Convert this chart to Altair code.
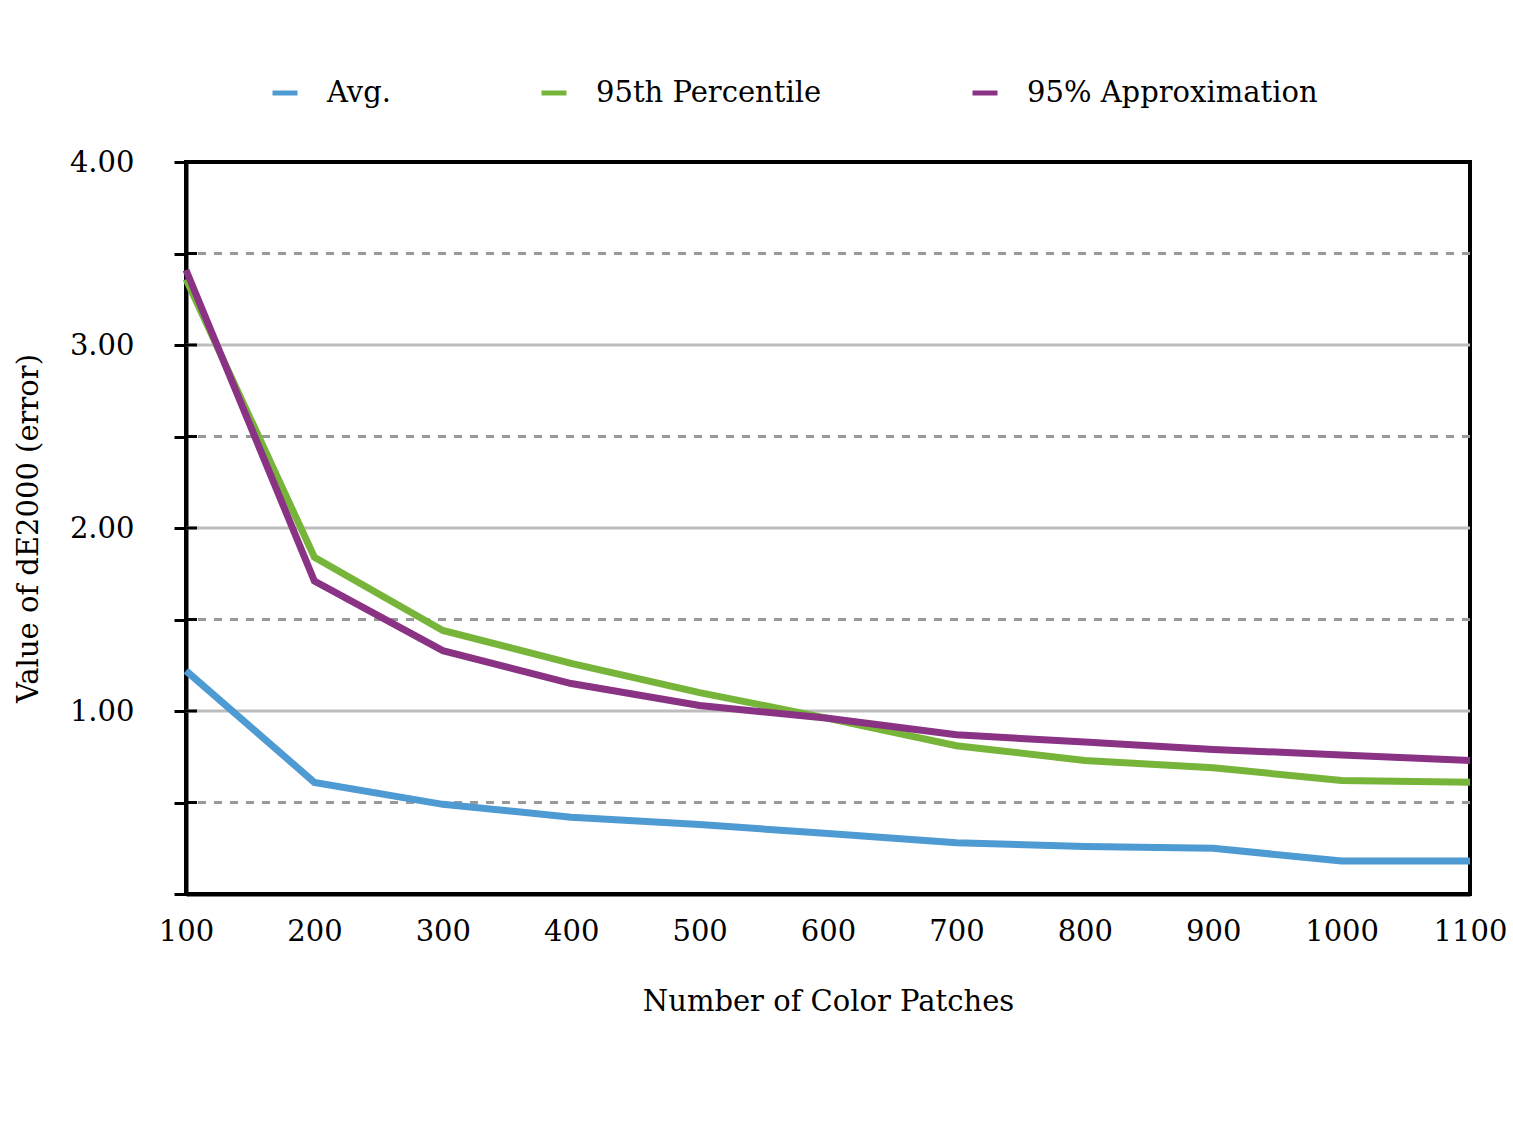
import altair as alt
import pandas as pd

# Number of colour patches used for characterisation
patches = [100, 200, 300, 400, 500, 600, 700, 800, 900, 1000, 1100]

# dE2000 error values per series
avg_err = [1.22, 0.61, 0.49, 0.42, 0.38, 0.33, 0.28, 0.26, 0.25, 0.18, 0.18]
p95_err = [3.36, 1.84, 1.44, 1.26, 1.10, 0.96, 0.81, 0.73, 0.69, 0.62, 0.61]
approx_err = [3.41, 1.71, 1.33, 1.15, 1.03, 0.96, 0.87, 0.83, 0.79, 0.76, 0.73]

series_names = ["Avg.", "95th Percentile", "95% Approximation"]
series_colors = ["#4E9AD2", "#77B53A", "#8A3284"]

major_grid = [1, 2, 3]
minor_grid = [0.5, 1.5, 2.5, 3.5]
y_ticks = [0, 0.5, 1, 1.5, 2, 2.5, 3, 3.5, 4]

FONT = "DejaVu Serif"
FS = 29

rows = []
for name, vals in zip(series_names, [avg_err, p95_err, approx_err]):
    for x, v in zip(patches, vals):
        rows.append({"patches": x, "value": v, "series": name})
df = pd.DataFrame(rows)

x_scale = alt.Scale(domain=[100, 1100], nice=False, zero=False)
y_scale = alt.Scale(domain=[0, 4], nice=False)

y_axis = alt.Axis(
    values=y_ticks,
    labelExpr="datum.value > 0 && datum.value % 1 == 0 ? format(datum.value, '.2f') : ''",
    grid=False,
    domainColor="black",
    domainWidth=4,
    tickColor="black",
    tickWidth=3,
    tickSize=12,
    labelFont=FONT,
    labelFontSize=FS,
    labelColor="black",
    labelPadding=40,
    labelFlush=False,
    titleFont=FONT,
    titleFontSize=FS,
    titleFontWeight="normal",
    titleColor="black",
    titlePadding=26,
)

# solid grid lines at whole values (this layer also carries the y axis)
major = alt.Chart(pd.DataFrame({"v": major_grid})).mark_rule(
    color="#BDBDBD", strokeWidth=3
).encode(y=alt.Y("v:Q", scale=y_scale, axis=y_axis, title="Value of dE2000 (error)"))

# dashed grid lines at half values
minor = alt.Chart(pd.DataFrame({"v": minor_grid})).mark_rule(
    color="#999999", strokeWidth=3, strokeDash=[8, 8]
).encode(y=alt.Y("v:Q", scale=y_scale))

# short inner half of each y tick
inner_ticks = alt.Chart(pd.DataFrame({"v": y_ticks})).mark_rule(
    color="black", strokeWidth=3
).encode(
    y=alt.Y("v:Q", scale=y_scale),
    x=alt.value(0),
    x2=alt.value(11),
)

lines = alt.Chart(df).mark_line(strokeWidth=7, strokeCap="butt").encode(
    x=alt.X(
        "patches:Q",
        scale=x_scale,
        title="Number of Color Patches",
        axis=alt.Axis(
            values=patches,
            format="d",
            ticks=False,
            grid=False,
            domainColor="black",
            domainWidth=4,
            labelFont=FONT,
            labelFontSize=FS,
            labelColor="black",
            labelPadding=23,
            labelFlush=False,
            titleFont=FONT,
            titleFontSize=FS,
            titleFontWeight="normal",
            titleColor="black",
            titlePadding=41,
        ),
    ),
    y=alt.Y("value:Q", scale=y_scale),
    color=alt.Color(
        "series:N",
        scale=alt.Scale(domain=series_names, range=series_colors),
        sort=series_names,
        legend=alt.Legend(
            title=None,
            orient="none",
            direction="horizontal",
            legendX=84,
            legendY=-84,
            symbolType="stroke",
            symbolSize=625,
            symbolStrokeWidth=5,
            labelFont=FONT,
            labelFontSize=FS,
            labelColor="black",
            labelLimit=0,
            labelOffset=27,
            columnPadding=140,
        ),
    ),
)

chart = (
    alt.layer(major, minor, lines, inner_ticks)
    .properties(
        width=1284,
        height=732,
        background="white",
        autosize=alt.AutoSizeParams(type="none"),
        padding={"left": 186, "top": 162, "right": 43, "bottom": 241},
    )
    .configure_view(stroke="black", strokeWidth=4)
)

chart.save("out.html", embed_options={"renderer": "svg", "actions": False})
